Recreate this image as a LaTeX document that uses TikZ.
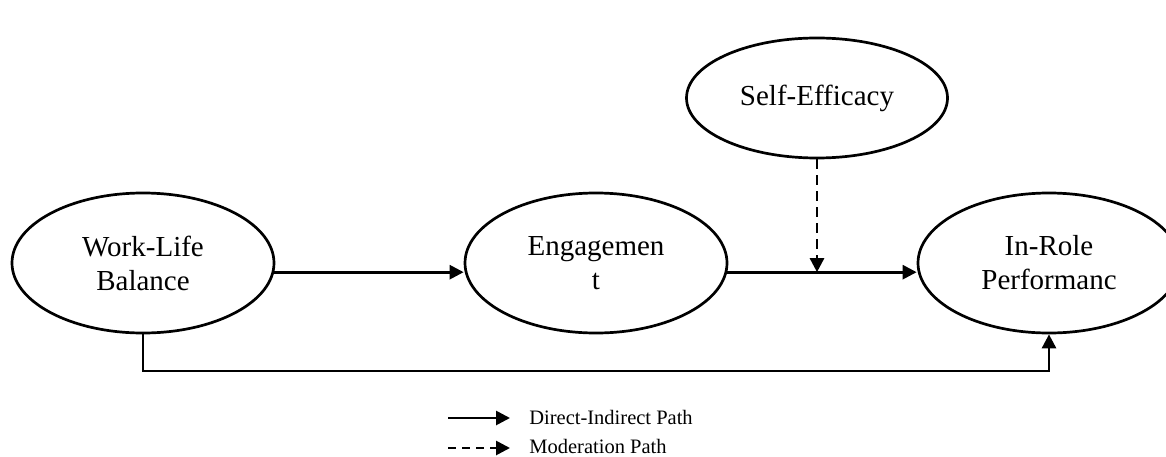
\documentclass[tikz,border=0pt]{standalone}
\usepackage{fontspec}
\setmainfont{Liberation Serif}
\usetikzlibrary{shapes.geometric,arrows.meta,calc}
\begin{document}
\begin{tikzpicture}[x=1pt,y=-1pt,
  line width=2.7pt,
  var/.style={ellipse,draw,line width=2.7pt,minimum width=262pt,minimum height=140pt,inner sep=0pt,align=center,font=\fontsize{29}{34}\selectfont},
  arr/.style={-{Triangle[length=14pt,width=14pt]}},
  dsh/.style={dash pattern=on 10pt off 6pt},
  legtext/.style={anchor=base west,inner sep=0pt,font=\fontsize{20.5}{24}\selectfont}]
\useasboundingbox (0,0) rectangle (1166,457);
\node[var] (wlb) at (143,263) {Work-Life\\Balance};
\node[var] (eng) at (596,263) {Engagemen\\t};
\node[var] (irp) at (1049,263) {In-Role\\Performanc};
\node[var,minimum width=261pt,minimum height=120pt] (se) at (817,98) {Self-Efficacy};
\coordinate (low) at (0,371);
\draw[arr] (wlb.-4) -- (wlb.-4 -| eng.west);
\draw[arr] (eng.-4) -- (eng.-4 -| irp.west);
\draw[arr,dsh] (se.south) -- (se.south |- eng.-4);
\draw[arr] (wlb.south) -- (wlb.south |- low) -| (irp.south);
% legend
\coordinate (l1s) at (448,418);
\coordinate (l1e) at (510,418);
\coordinate (l2s) at (448,448);
\coordinate (l2e) at (510,448);
\draw[arr] (l1s) -- (l1e);
\draw[arr,dash pattern=on 8pt off 6pt] (l2s) -- (l2e);
\node[legtext] (t1) at (528,424) {Direct-Indirect Path};
\node[legtext] (t2) at (528,453) {Moderation Path};
\end{tikzpicture}
\end{document}
